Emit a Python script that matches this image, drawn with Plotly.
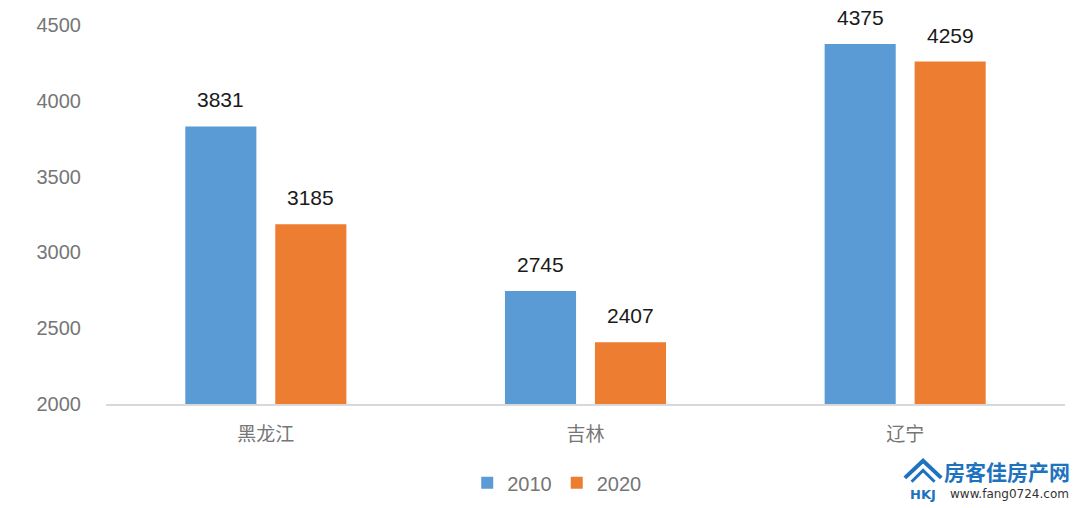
import plotly.graph_objects as go

categories = ["黑龙江", "吉林", "辽宁"]
series_names = ["2010", "2020"]
values_2010 = [3831, 2745, 4375]
values_2020 = [3185, 2407, 4259]
y_ticks = [2000, 2500, 3000, 3500, 4000, 4500]

colors = ["#5B9BD5", "#ED7D31"]
FONT = "Liberation Sans, Noto Sans CJK SC, sans-serif"

fig = go.Figure()
for name, vals, col in zip(series_names, [values_2010, values_2020], colors):
    fig.add_trace(go.Bar(x=categories, y=vals, name=name, marker=dict(color=col, line=dict(width=0))))

for vals, shift in [(values_2010, -45), (values_2020, 45)]:
    for c, v in zip(categories, vals):
        fig.add_annotation(x=c, y=v, text=str(v), showarrow=False, xshift=shift,
                           yanchor="bottom", yshift=13,
                           font=dict(family=FONT, size=21, color="#1a1a1a"))

# watermark
fig.add_annotation(xref="paper", yref="paper", x=1.007, y=-0.177, xanchor="right", yanchor="middle",
                   text="<b>房客佳房产网</b>", showarrow=False,
                   font=dict(family="Noto Sans CJK SC", size=21, color="#1E73BE"))
fig.add_annotation(xref="paper", yref="paper", x=1.006, y=-0.237, xanchor="right", yanchor="middle",
                   text="www.fang0724.com", showarrow=False,
                   font=dict(family="DejaVu Sans", size=12, color="#333333"))
fig.add_shape(type="path", xref="paper", yref="paper",
              path="M 0.833 -0.195 L 0.852 -0.150 L 0.871 -0.195",
              line=dict(color="#1E73BE", width=4))
fig.add_shape(type="path", xref="paper", yref="paper",
              path="M 0.840 -0.205 L 0.852 -0.175 L 0.864 -0.205",
              line=dict(color="#1E73BE", width=3))
fig.add_annotation(xref="paper", yref="paper", x=0.852, y=-0.238, xanchor="center", yanchor="middle",
                   text="<b>HKJ</b>", showarrow=False,
                   font=dict(family="DejaVu Sans", size=13, color="#1E73BE"))

fig.update_layout(
    width=1080, height=508,
    margin=dict(l=106, r=15, t=25, b=104, autoexpand=False),
    paper_bgcolor="white", plot_bgcolor="white",
    barmode="group", bargap=0.437, bargroupgap=0.21,
    font=dict(family=FONT, color="#767676"),
    showlegend=True,
    legend=dict(orientation="h", x=0.47, xanchor="center", y=-0.208, yanchor="middle",
                font=dict(family=FONT, size=20, color="#767676"),
                itemwidth=30, traceorder="normal"),
    xaxis=dict(showline=True, linecolor="#D9D9D9", linewidth=2, ticks="",
               ticklabelstandoff=12,
               tickfont=dict(family=FONT, size=19, color="#767676"), showgrid=False),
    yaxis=dict(range=[2000, 4500], tickvals=y_ticks, showgrid=False, showline=False,
               zeroline=False, ticks="", ticklabelstandoff=24,
               tickfont=dict(family=FONT, size=20, color="#767676")),
)

fig.write_html("out.html")
